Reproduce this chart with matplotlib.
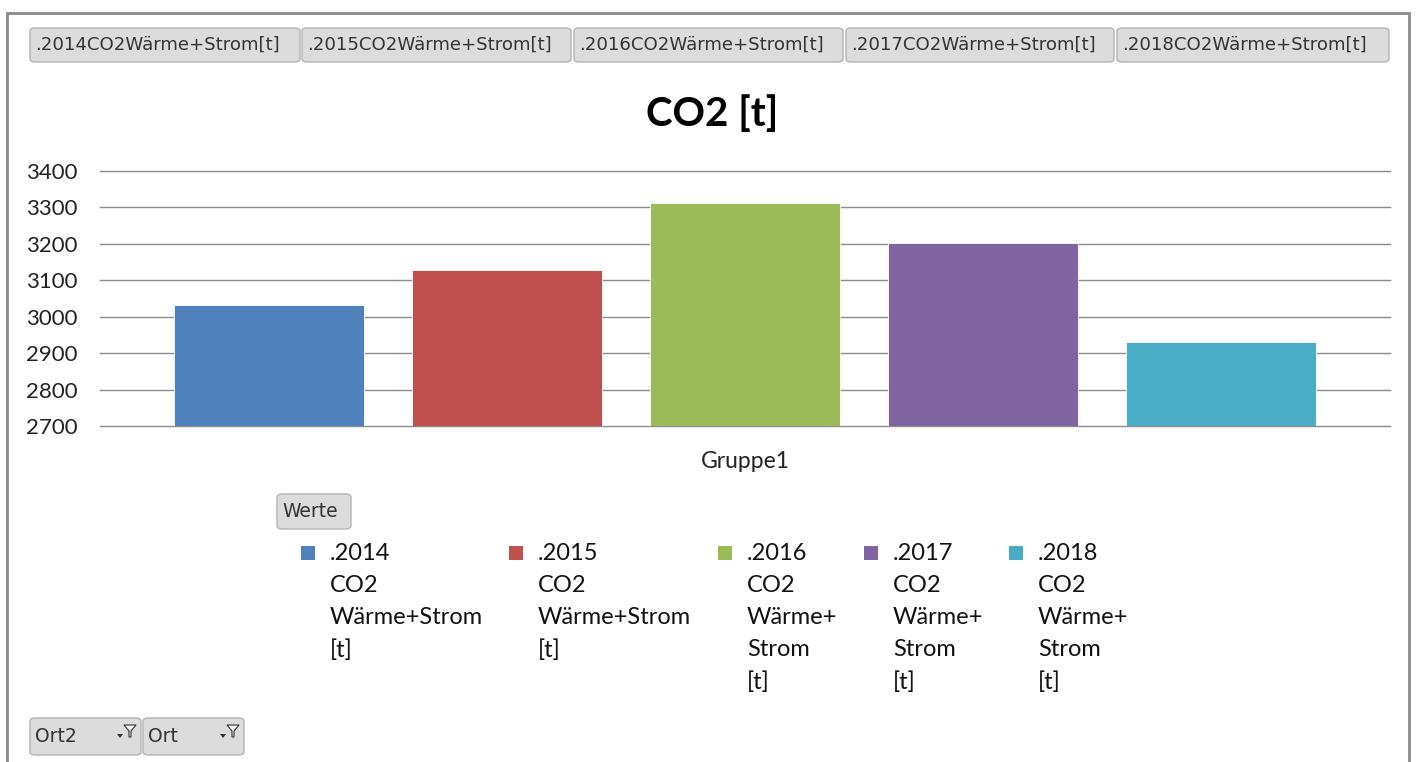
import matplotlib.pyplot as plt
from matplotlib.patches import FancyBboxPatch, Rectangle, Polygon

# data
years = ['.2014', '.2015', '.2016', '.2017', '.2018']
values = [3032, 3129, 3311, 3201, 2931]
colors = ['#4F81BD', '#C0504D', '#9BBB59', '#8064A2', '#4BACC6']
legend_labels = ['.2014\nCO2\nWärme+Strom\n[t]',
                 '.2015\nCO2\nWärme+Strom\n[t]',
                 '.2016\nCO2\nWärme+\nStrom\n[t]',
                 '.2017\nCO2\nWärme+\nStrom\n[t]',
                 '.2018\nCO2\nWärme+\nStrom\n[t]']
field_buttons = [y + 'CO2Wärme+Strom[t]' for y in years]
group = ['Gruppe1']
yticks = [2700, 2800, 2900, 3000, 3100, 3200, 3300, 3400]

W, H = 1424, 762
fig = plt.figure(figsize=(W / 100, H / 100), dpi=100)
plt.rcParams['font.family'] = ['Lato', 'DejaVu Sans']


def fx(px):
    return px / W


def fy(py):
    return 1 - py / H


def button(x0, y0, x1, y1, text, size=14):
    p = FancyBboxPatch((fx(x0), fy(y1)), fx(x1 - x0), (y1 - y0) / H,
                       boxstyle='round,pad=0,rounding_size=0.004',
                       transform=fig.transFigure, fc='#dcdcdc', ec='#b4b4b4', lw=1)
    fig.patches.append(p)
    fig.text(fx(x0 + 5), fy((y0 + y1) / 2), text, fontsize=size, color='#333333',
             va='center', ha='left', family='DejaVu Sans')


def funnel(xc, yc):
    pts = [(xc - 6, yc - 6), (xc + 6, yc - 6), (xc + 1, yc), (xc + 1, yc + 6),
           (xc - 1, yc + 6), (xc - 1, yc)]
    fig.patches.append(Polygon([(fx(a), fy(b)) for a, b in pts], closed=True,
                               transform=fig.transFigure, fc='#f4f4f4', ec='#333333', lw=0.8))
    tri = [(xc - 13, yc + 3), (xc - 7, yc + 3), (xc - 10, yc + 7)]
    fig.patches.append(Polygon([(fx(a), fy(b)) for a, b in tri], closed=True,
                               transform=fig.transFigure, fc='#333333', ec='none'))


# outer frame
fig.patches.append(Rectangle((fx(7), fy(800)), fx(1409 - 7), (800 - 13) / H,
                             transform=fig.transFigure, fill=False, ec='#8a8a8a', lw=2))

# field buttons on top
bx = [30, 302, 574, 846, 1117]
bw = [270, 269, 269, 268, 272]
for x0, w, t in zip(bx, bw, field_buttons):
    button(x0, 28, x0 + w, 62, t, size=13.1)

# chart
ax = fig.add_axes([fx(100), fy(426), fx(1390 - 100), (426 - 171) / H])
x = list(range(len(values)))
ax.bar(x, values, width=0.8, color=colors, edgecolor='white', linewidth=0.6, zorder=3)
ax.set_ylim(2700, 3400)
ax.set_xlim(-0.71, 4.71)
ax.set_yticks(yticks)
ax.set_yticklabels([str(v) for v in yticks], fontsize=16, color='#222222')
ax.set_xticks([2])
ax.set_xticklabels(group, fontsize=16.5, color='#222222')
ax.tick_params(length=0)
ax.tick_params(axis='y', pad=16)
ax.tick_params(axis='x', pad=18)
ax.grid(axis='y', color='#8c8c8c', lw=1, zorder=0)
for ln in ax.get_ygridlines():
    ln.set_clip_on(False)
for s in ax.spines.values():
    s.set_visible(False)

fig.text(0.5, fy(114), 'CO2 [t]', fontsize=29, fontweight='bold', ha='center', va='center')

# Werte button and legend
button(277, 494, 351, 529, 'Werte', size=13.5)
leg_x = [308, 516, 725, 871, 1016]
for lx, c, lab in zip(leg_x, colors, legend_labels):
    fig.patches.append(Rectangle((fx(lx - 7), fy(560)), fx(14), 14 / H,
                                 transform=fig.transFigure, fc=c, ec='none'))
    fig.text(fx(lx + 22), fy(543), lab, fontsize=17, ha='left', va='top',
             linespacing=1.64, color='#111111')

# filter buttons at bottom
button(30, 718, 141, 755, 'Ort2', size=13.5)
button(143, 718, 244, 755, 'Ort', size=13.5)
funnel(130, 731)
funnel(233, 731)

fig.savefig('out.png', dpi=100)
